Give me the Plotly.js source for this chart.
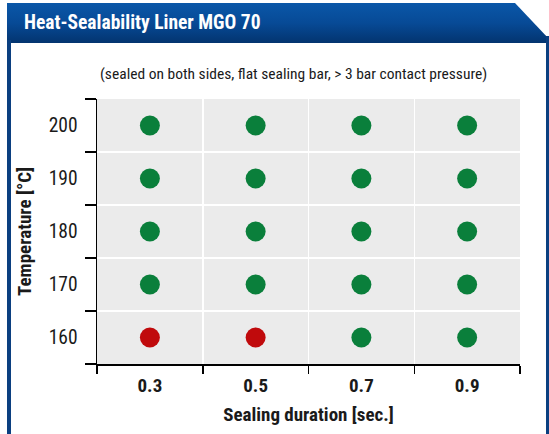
<!DOCTYPE html>
<html>
<head>
<meta charset="utf-8">
<script src="https://cdn.plot.ly/plotly-3.0.1.min.js"></script>
<style>
  html, body { margin: 0; padding: 0; background: #ffffff; }
  #wrap { position: relative; width: 549px; height: 434px; overflow: hidden; }
  #header {
    position: absolute; left: 7px; top: 3px; width: 542px; height: 40px;
    background: linear-gradient(to bottom, #0a57a8 0%, #074a96 50%, #03346f 100%);
    clip-path: polygon(0 0, 508px 0, 542px 36px, 542px 40px, 0 40px);
  }
  #lborder { position: absolute; left: 7px; top: 40px; width: 4px; height: 394px; background: #0b3f80; }
  #rborder { position: absolute; left: 546px; top: 36px; width: 3px; height: 398px; background: #0b3f80; }
  #chart { position: absolute; left: 0; top: 0; width: 549px; height: 434px; }
</style>
</head>
<body>
<div id="wrap">
  <div id="header"></div>
  <div id="lborder"></div>
  <div id="rborder"></div>
  <div id="chart"></div>
</div>
<script>
// Data
var durations = ['0.3', '0.5', '0.7', '0.9'];
var temperatures = ['160', '170', '180', '190', '200'];
// 1 = sealed (green), 0 = not sealed (red); rows follow temperatures order
var sealed = [
  [0, 0, 1, 1],   // 160
  [1, 1, 1, 1],   // 170
  [1, 1, 1, 1],   // 180
  [1, 1, 1, 1],   // 190
  [1, 1, 1, 1]    // 200
];
var chartTitle = 'Heat-Sealability Liner MGO 70';
var subtitle = '(sealed on both sides, flat sealing bar, > 3 bar contact pressure)';
var xTitle = 'Sealing duration [sec.]';
var yTitle = 'Temperature [°C]';

var okX = [], okY = [], badX = [], badY = [];
temperatures.forEach(function (t, i) {
  durations.forEach(function (d, j) {
    if (sealed[i][j]) { okX.push(d); okY.push(t); }
    else { badX.push(d); badY.push(t); }
  });
});

var FONT = '"Liberation Sans Narrow", "Roboto Condensed", "Arial Narrow", Roboto, sans-serif';

var traces = [
  { type: 'scatter', mode: 'markers', x: okX, y: okY, name: 'sealed',
    marker: { color: '#0a7f3b', size: 20, line: { width: 0 } }, hoverinfo: 'x+y' },
  { type: 'scatter', mode: 'markers', x: badX, y: badY, name: 'not sealed',
    marker: { color: '#c00a0c', size: 20, line: { width: 0 } }, hoverinfo: 'x+y' }
];

var layout = {
  width: 549, height: 434,
  margin: { l: 97, r: 29, t: 99, b: 70, pad: 0 },
  paper_bgcolor: 'rgba(0,0,0,0)',
  plot_bgcolor: '#ebebeb',
  showlegend: false,
  font: { family: FONT, color: '#1a1a1a' },
  title: {
    text: '<b>' + chartTitle + '</b>',
    font: { family: FONT, size: 19.5, color: '#ffffff' },
    xref: 'container', yref: 'container',
    x: 24 / 549, xanchor: 'left',
    y: 1 - 22 / 434, yanchor: 'middle'
  },
  xaxis: {
    type: 'category', categoryorder: 'array', categoryarray: durations,
    range: [-0.5, 3.5], fixedrange: true,
    tickson: 'boundaries', ticks: 'outside', ticklen: 8, tickwidth: 1.5, tickcolor: '#000',
    showline: true, linecolor: '#000', linewidth: 1.5,
    showgrid: true, gridcolor: '#ffffff', gridwidth: 1.5, zeroline: false,
    tickfont: { family: FONT, size: 19, color: '#1a1a1a', weight: 'bold' },
    ticklabelstandoff: 4,
    title: { text: xTitle, font: { family: FONT, size: 19, color: '#1a1a1a', weight: 'bold' }, standoff: 11 }
  },
  yaxis: {
    type: 'category', categoryorder: 'array', categoryarray: temperatures,
    range: [-0.5, 4.5], fixedrange: true,
    tickson: 'boundaries', ticks: 'outside', ticklen: 11, tickwidth: 1.5, tickcolor: '#000',
    showline: true, linecolor: '#000', linewidth: 1.5,
    showgrid: true, gridcolor: '#ffffff', gridwidth: 1.5, zeroline: false,
    tickfont: { family: FONT, size: 19.5, color: '#1a1a1a' },
    ticklabelstandoff: 14,
    title: { text: yTitle, font: { family: FONT, size: 19, color: '#1a1a1a', weight: 'bold' }, standoff: 12 }
  },
  annotations: [
    { text: subtitle, xref: 'paper', yref: 'paper', x: 0.5, y: 1,
      showarrow: false, xanchor: 'center', yanchor: 'middle',
      font: { family: FONT, size: 15.5, color: '#1a1a1a' } }
  ]
};
// subtitle centre at y = 74 px from top; plot area spans 99..364
layout.annotations[0].y = (364 - 74) / (364 - 99);
layout.annotations[0].x = (293 - 97) / (520 - 97);

Plotly.newPlot('chart', traces, layout, { displayModeBar: false, staticPlot: true });
</script>
</body>
</html>
